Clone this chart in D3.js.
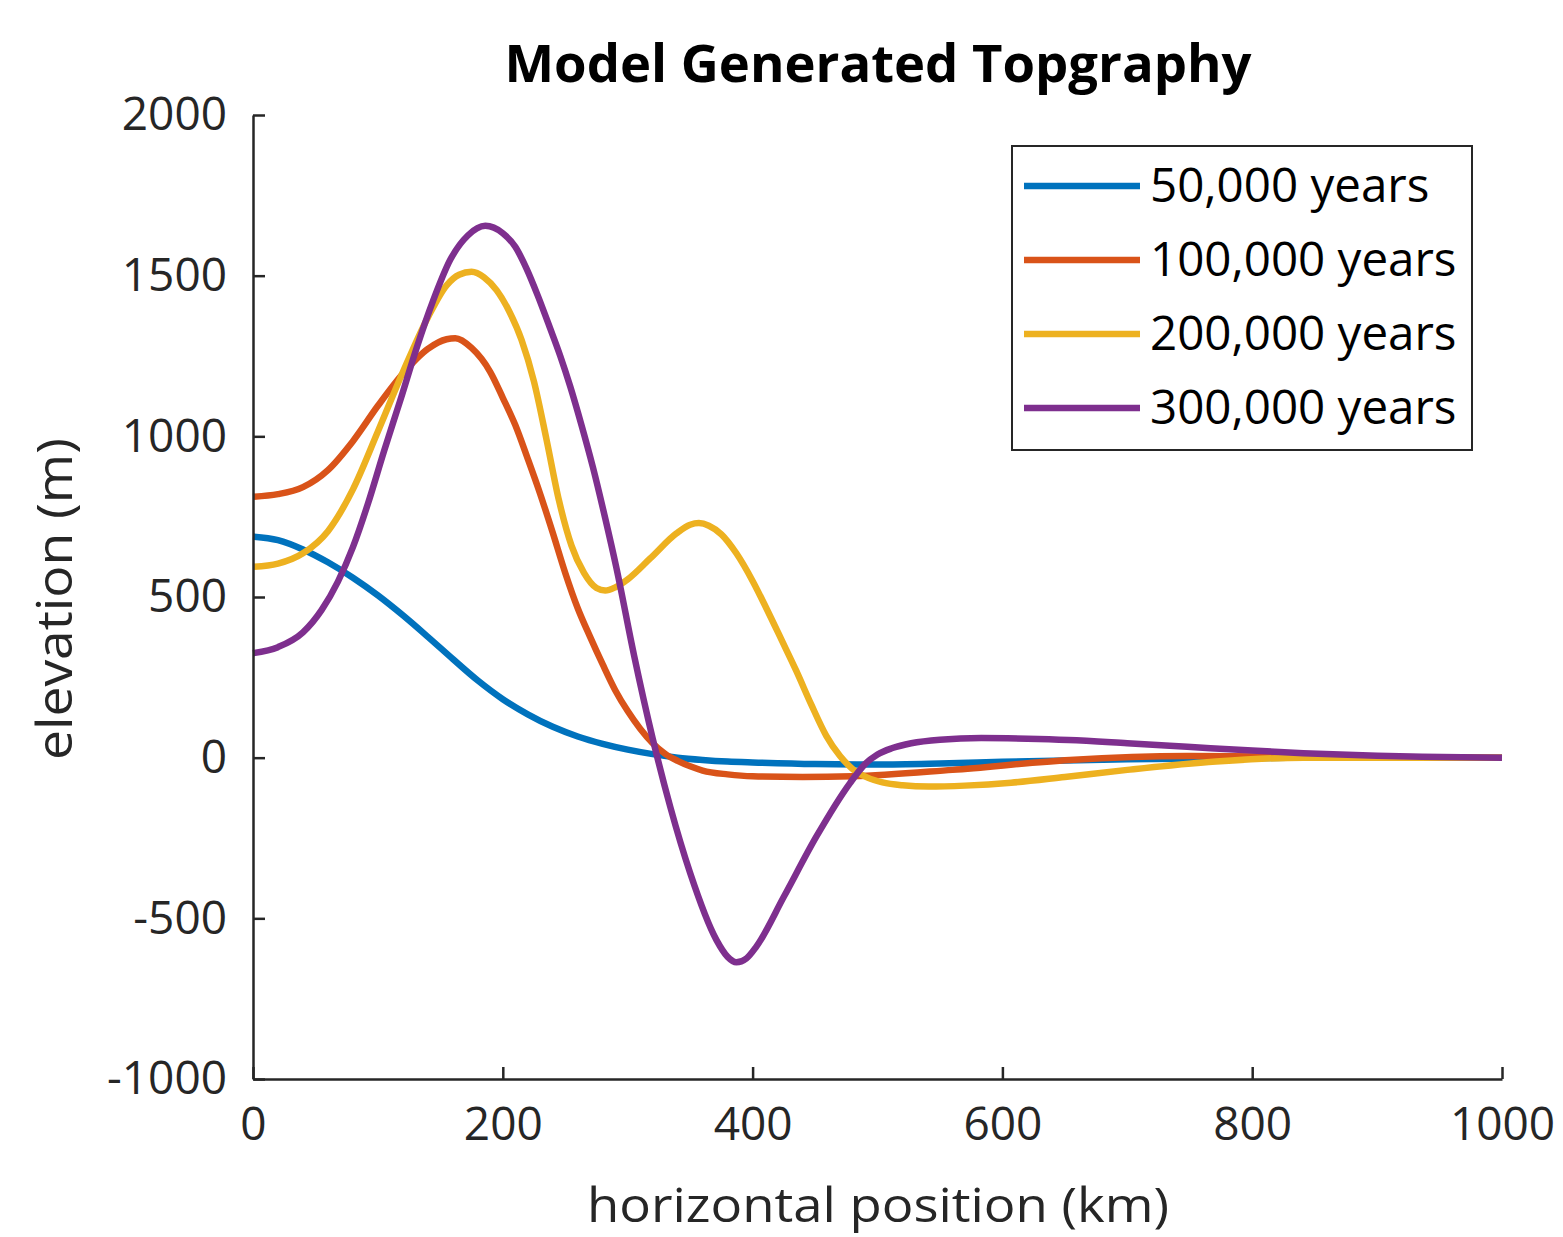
<!DOCTYPE html>
<html>
<head>
<meta charset="utf-8">
<script src="https://cdn.jsdelivr.net/npm/d3@7"></script>
<style>
  body { margin: 0; background: #fff; }
  text { font-family: "Open Sans", sans-serif; fill: #262626; }
</style>
</head>
<body>
<svg id="chart" width="1563" height="1237"></svg>
<script>
// Data (km, m)
const seriesNames = ["50,000 years", "100,000 years", "200,000 years", "300,000 years"];
const seriesColors = ["#0072BD", "#D95319", "#EDB120", "#7E2F8E"];

const x50k = [0, 20, 40, 60, 80, 100, 120, 140, 160, 180, 200, 220, 240, 260, 280, 300, 320, 340, 360, 380, 400, 450, 500, 550, 600, 700, 800, 900, 1000];
const y50k = [688, 677, 648, 608, 560, 505, 443, 376, 307, 240, 182, 135, 96, 66, 43, 25, 11, 0, -7, -12, -15, -20, -21, -18, -13, -5, -1, 0, 0];

const x100k = [0, 20, 40, 60, 80, 100, 120, 140, 155, 162, 175, 190, 200, 210, 220, 230, 240, 250, 260, 270, 280, 290, 300, 310, 320, 330, 340, 350, 360, 380, 400, 440, 480, 560, 654, 748, 850, 1000];
const y100k = [812, 820, 842, 895, 985, 1095, 1195, 1272, 1302, 1305, 1275, 1200, 1120, 1035, 930, 820, 700, 575, 465, 375, 290, 210, 145, 90, 45, 12, -10, -27, -40, -52, -58, -60, -58, -38, -7, 5, 3, 0];

const x200k = [0, 20, 40, 60, 80, 100, 120, 140, 155, 165, 175, 185, 195, 205, 215, 225, 235, 245, 255, 265, 275, 282, 290, 300, 318, 339, 350, 357, 365, 375, 387, 400, 411, 423, 435, 447, 459, 470, 480, 492, 504, 520, 541, 570, 607, 650, 700, 771, 841, 1000];
const y200k = [594, 604, 636, 705, 835, 1015, 1200, 1370, 1470, 1503, 1512, 1495, 1455, 1390, 1300, 1170, 990, 800, 660, 575, 528, 520, 530, 555, 620, 698, 725, 730, 722, 695, 636, 550, 465, 368, 270, 165, 68, 5, -35, -62, -77, -86, -90, -87, -78, -60, -38, -12, 0, 0];

const x300k = [0, 20, 40, 55, 68, 80, 92, 105, 118, 131, 144, 158, 172, 186, 200, 210, 219, 228, 238, 246, 254, 263, 272, 282, 291, 305, 320, 334, 350, 371, 380, 387, 395, 403, 425, 451, 478, 490, 500, 512, 527, 550, 583, 620, 653, 700, 748, 800, 841, 900, 936, 1000];
const y300k = [325, 344, 390, 460, 548, 655, 790, 955, 1113, 1275, 1420, 1550, 1625, 1655, 1632, 1590, 1522, 1438, 1335, 1250, 1155, 1035, 906, 745, 590, 320, 60, -152, -359, -567, -620, -637, -625, -588, -433, -246, -79, -20, 10, 30, 45, 56, 61, 59, 55, 45, 34, 22, 14, 6, 3, 0];

const xTicks = [0, 200, 400, 600, 800, 1000];
const yTicks = [-1000, -500, 0, 500, 1000, 1500, 2000];

const seriesX = [x50k, x100k, x200k, x300k];
const seriesY = [y50k, y100k, y200k, y300k];

// Layout
const plotLeft = 253, plotRight = 1502, plotTop = 115, plotBottom = 1079;
const svg = d3.select("#chart");

const x = d3.scaleLinear().domain([0, 1000]).range([plotLeft, plotRight]);
const y = d3.scaleLinear().domain([-1000, 2000]).range([plotBottom, plotTop]);

// Lines
const line = d3.line()
  .x(d => x(d[0]))
  .y(d => y(d[1]))
  .curve(d3.curveMonotoneX);

seriesNames.forEach((name, i) => {
  const pts = seriesX[i].map((v, j) => [v, seriesY[i][j]]);
  svg.append("path")
    .datum(pts)
    .attr("fill", "none")
    .attr("stroke", seriesColors[i])
    .attr("stroke-width", 6.5)
    .attr("stroke-linejoin", "round")
    .attr("d", line);
});

// Axes (ticks point inward like MATLAB)
const plain = d => String(d);
const xAxis = d3.axisBottom(x).tickValues(xTicks).tickFormat(plain).tickSize(-12).tickPadding(28).tickSizeOuter(0);
const yAxis = d3.axisLeft(y).tickValues(yTicks).tickFormat(plain).tickSize(-12).tickPadding(26).tickSizeOuter(0);

const gx = svg.append("g")
  .attr("transform", "translate(0," + plotBottom + ")")
  .call(xAxis);
const gy = svg.append("g")
  .attr("transform", "translate(" + plotLeft + ",0)")
  .call(yAxis);

[gx, gy].forEach(g => {
  g.select(".domain").attr("stroke", "#262626").attr("stroke-width", 2.5);
  g.selectAll(".tick line").attr("stroke", "#262626").attr("stroke-width", 2.5);
  g.selectAll(".tick text")
    .attr("fill", "#262626")
    .style("font-family", "'Open Sans', sans-serif")
    .style("font-size", "46px");
});
gx.selectAll(".tick text").attr("dy", "0.71em");

// Title and axis labels
svg.append("text")
  .attr("x", 878).attr("y", 82)
  .attr("text-anchor", "middle")
  .attr("textLength", 747).attr("lengthAdjust", "spacingAndGlyphs")
  .style("font-size", "52px").style("font-weight", "bold")
  .style("fill", "#000")
  .text("Model Generated Topgraphy");

svg.append("text")
  .attr("x", 878).attr("y", 1222)
  .attr("text-anchor", "middle")
  .attr("textLength", 582).attr("lengthAdjust", "spacingAndGlyphs")
  .style("font-size", "48px")
  .text("horizontal position (km)");

svg.append("text")
  .attr("transform", "translate(72,599) rotate(-90)")
  .attr("text-anchor", "middle")
  .attr("textLength", 322).attr("lengthAdjust", "spacingAndGlyphs")
  .style("font-size", "50px")
  .text("elevation (m)");

// Legend
const legend = svg.append("g");
legend.append("rect")
  .attr("x", 1012).attr("y", 146)
  .attr("width", 460).attr("height", 304)
  .attr("fill", "#fff")
  .attr("stroke", "#262626").attr("stroke-width", 2);

seriesNames.forEach((name, i) => {
  const ry = 186 + i * 74;
  legend.append("line")
    .attr("x1", 1024).attr("x2", 1140)
    .attr("y1", ry).attr("y2", ry)
    .attr("stroke", seriesColors[i])
    .attr("stroke-width", 6.5);
  legend.append("text")
    .attr("x", 1150).attr("y", ry + 16)
    .style("font-size", "47.5px")
    .style("fill", "#000")
    .text(name);
});
</script>
</body>
</html>
